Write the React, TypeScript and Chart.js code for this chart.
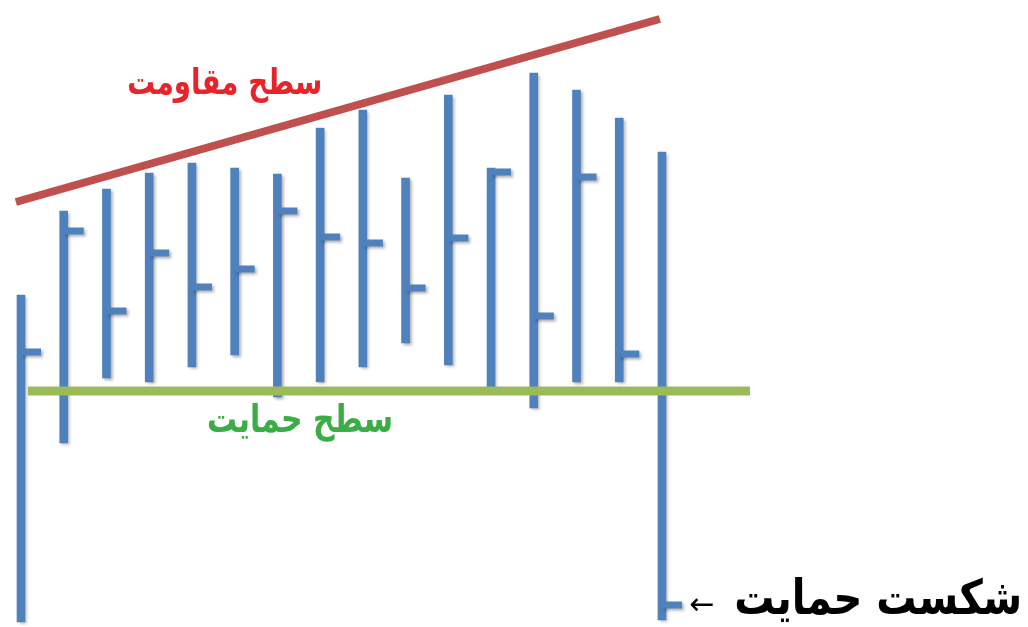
import React, { useEffect, useRef } from "react";
import { Chart, registerables } from "chart.js";

Chart.register(...registerables);

// Bar periods (x positions in bar units)
const periods = [1, 2, 3, 4, 5, 6, 7, 8, 9, 10, 11, 12, 13, 14, 15, 16];
// Price values
const highs = [332, 416, 438, 454, 464, 459, 453, 499, 517, 449, 532, 459, 554, 537, 509, 475];
const lows = [5, 184, 249, 245, 260, 272, 230, 245, 260, 284, 262, 239, 219, 245, 245, 7];
const closes = [275, 396, 316, 374, 340, 358, 416, 390, 384, 339, 389, 455, 311, 450, 273, 22];

// Trend lines (x in bar units, y in price)
const resistanceX = [0.88, 15.95];
const resistanceY = [425, 608];
const supportX = [1.16, 18.06];
const supportY = [236, 236];

// Text labels
const resistanceLabel = "سطح مقاومت";
const supportLabel = "سطح حمایت";
const breakLabel = "شکست حمایت";
const arrowLabel = "←";

const X_MIN = 0.5085;
const X_MAX = 24.566;
const Y_MIN = 0;
const Y_MAX = 627;

function fitFont(ctx: CanvasRenderingContext2D, text: string, weight: string, family: string, targetWidth: number) {
  ctx.font = `${weight} 40px ${family}`;
  const w = ctx.measureText(text).width;
  const size = (40 * targetWidth) / w;
  return `${weight} ${size.toFixed(2)}px ${family}`;
}

function drawStretched(ctx: CanvasRenderingContext2D, text: string, x: number, y: number, sy: number) {
  ctx.save();
  ctx.translate(x, y);
  ctx.scale(1, sy);
  ctx.fillText(text, 0, 0);
  ctx.restore();
}

const ohlcPlugin = {
  id: "ohlcTicks",
  beforeDatasetDraw(chart: any, args: any) {
    if (args.index !== 0) return;
    const ctx = chart.ctx;
    ctx.shadowColor = "rgba(0,0,0,0.3)";
    ctx.shadowBlur = 3;
    ctx.shadowOffsetX = 2;
    ctx.shadowOffsetY = 2;
  },
  afterDatasetDraw(chart: any, args: any) {
    if (args.index !== 0) return;
    const ctx = chart.ctx;
    const xs = chart.scales.x;
    const ys = chart.scales.y;
    ctx.save();
    ctx.fillStyle = "#4f81bd";
    periods.forEach((p, i) => {
      const cx = xs.getPixelForValue(p);
      const cy = ys.getPixelForValue(closes[i]);
      ctx.fillRect(cx, cy - 3.5, 20, 7);
    });
    ctx.restore();
    ctx.shadowColor = "rgba(0,0,0,0)";
    ctx.shadowBlur = 0;
    ctx.shadowOffsetX = 0;
    ctx.shadowOffsetY = 0;
  },
  afterDraw(chart: any) {
    const ctx = chart.ctx;
    const xs = chart.scales.x;
    const ys = chart.scales.y;
    ctx.save();
    ctx.textBaseline = "middle";
    ctx.textAlign = "center";
    ctx.direction = "rtl";

    // resistance label
    ctx.font = fitFont(ctx, resistanceLabel, "bold", "'DejaVu Sans'", 195);
    ctx.fillStyle = "#e8232a";
    drawStretched(ctx, resistanceLabel, xs.getPixelForValue(5.77), ys.getPixelForValue(542), 1.3);

    // support label
    ctx.font = fitFont(ctx, supportLabel, "bold", "'DejaVu Sans'", 186);
    ctx.fillStyle = "#3aae45";
    drawStretched(ctx, supportLabel, xs.getPixelForValue(7.53), ys.getPixelForValue(205), 1.3);

    // break label
    ctx.textAlign = "right";
    ctx.font = fitFont(ctx, breakLabel, "bold", "'DejaVu Sans'", 288);
    ctx.fillStyle = "#000000";
    drawStretched(ctx, breakLabel, xs.getPixelForValue(24.43), ys.getPixelForValue(25), 1.2);

    ctx.direction = "ltr";
    ctx.textAlign = "center";
    ctx.font = "normal 30px 'DejaVu Sans'";
    ctx.fillText(arrowLabel, xs.getPixelForValue(16.94), ys.getPixelForValue(21));
    ctx.restore();
  },
};

export default function App() {
  const canvasRef = useRef<HTMLCanvasElement | null>(null);

  useEffect(() => {
    document.body.style.margin = "0";
    const canvas = canvasRef.current;
    if (!canvas) return;
    const chart = new Chart(canvas, {
      type: "bar",
      data: {
        datasets: [
          {
            type: "bar",
            data: periods.map((p, i) => ({ x: p, y: [lows[i], highs[i]] })) as any,
            backgroundColor: "#4f81bd",
            barThickness: 8,
            borderWidth: 0,
            borderSkipped: false,
            order: 2,
          } as any,
          {
            type: "line",
            data: resistanceX.map((x, i) => ({ x, y: resistanceY[i] })) as any,
            borderColor: "#c0504d",
            borderWidth: 8,
            pointRadius: 0,
            borderCapStyle: "butt",
            order: 1,
          } as any,
          {
            type: "line",
            data: supportX.map((x, i) => ({ x, y: supportY[i] })) as any,
            borderColor: "#9bbb59",
            borderWidth: 9,
            pointRadius: 0,
            borderCapStyle: "butt",
            order: 0,
          } as any,
        ],
      },
      options: {
        responsive: false,
        animation: false,
        devicePixelRatio: 1,
        layout: { padding: 0 },
        plugins: {
          legend: { display: false },
          tooltip: { enabled: false },
        },
        scales: {
          x: { type: "linear", display: false, min: X_MIN, max: X_MAX, offset: false },
          y: { type: "linear", display: false, min: Y_MIN, max: Y_MAX },
        },
      } as any,
      plugins: [ohlcPlugin],
    });
    return () => chart.destroy();
  }, []);

  return (
    <div style={{ width: 1028, height: 627, background: "#ffffff" }}>
      <canvas ref={canvasRef} width={1028} height={627} style={{ display: "block" }} />
    </div>
  );
}
